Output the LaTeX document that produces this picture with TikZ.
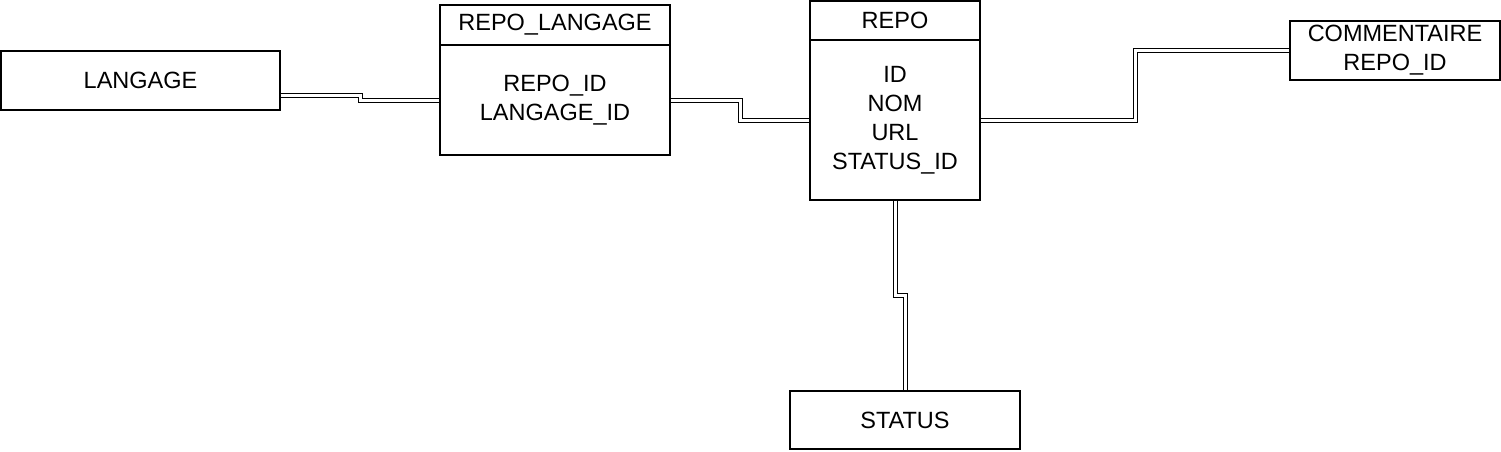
\documentclass[tikz,border=0pt]{standalone}
\usepackage{fontspec}
\setmainfont{Liberation Sans}
\begin{document}
\begin{tikzpicture}[x=1pt,y=-1pt,
  box/.style={draw,line width=1.2pt,rectangle,inner sep=0pt,align=center,
    font=\fontsize{23.5}{29}\selectfont},
  link/.style={double,double distance=3pt,line width=1pt}]
\useasboundingbox (0,0) rectangle (1501,451);
% LANGAGE
\node[box,minimum width=279pt,minimum height=59pt] (lang) at (140.5,80.5) {LANGAGE};
% REPO_LANGAGE
\node[box,minimum width=230pt,minimum height=40pt] (rlhead) at (555,25) {REPO\_LANGAGE};
\node[box,minimum width=230pt,minimum height=110pt] (rlbody) at (555,100) {REPO\_ID\\LANGAGE\_ID};
% REPO
\node[box,minimum width=170pt,minimum height=39pt] (rhead) at (895,20.5) {REPO};
\node[box,minimum width=170pt,minimum height=160pt] (rbody) at (895,120) {ID\\NOM\\URL\\STATUS\_ID};
% COMMENTAIRE
\node[box,minimum width=210pt,minimum height=59pt] (comm) at (1395,50.5) {COMMENTAIRE\\REPO\_ID};
% STATUS
\node[box,minimum width=230pt,minimum height=58pt] (status) at (905,420) {STATUS};
% connectors
\draw[link] ([yshift=-14.5pt]lang.east) -- ++(80,0) |- (rlbody.west);
\draw[link] (rlbody.east) -- ++(70,0) |- (rbody.west);
\draw[link] (rbody.east) -- ++(155,0) |- (comm.west);
\draw[link] (rbody.south) -- ++(0,95) -| (status.north);
\end{tikzpicture}
\end{document}
